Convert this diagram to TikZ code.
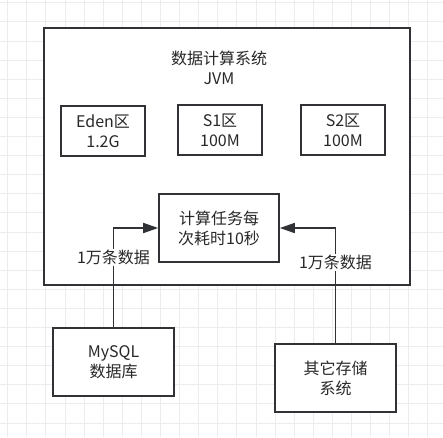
\documentclass[tikz,border=0pt]{standalone}
\usepackage{fontspec}
\setmainfont{Noto Sans CJK SC}
\definecolor{jvmline}{RGB}{48, 50, 54}
\definecolor{jvmtext}{RGB}{40, 40, 40}
\definecolor{gridgray}{RGB}{236, 236, 236}
\usetikzlibrary{arrows.meta, positioning}
\tikzset{
    membox/.style={rectangle, draw=jvmline, fill=white, line width=1.6pt,
                   minimum width=84pt, minimum height=50pt, align=center,
                   text=jvmtext, font=\fontsize{16}{20}\selectfont},
    srcbox/.style={membox, minimum width=121pt, minimum height=68pt},
    gridline/.style={gridgray, line width=0.8pt},
    arrow/.style={-{Triangle[length=15pt, width=10pt]}, line width=1.6pt, jvmline},
    flowlabel/.style={fill=white, inner sep=1pt, text=jvmtext, font=\fontsize{16}{20}\selectfont},
}

\begin{document}
\begin{tikzpicture}[x=1pt, y=1pt]
            \useasboundingbox (0,0) rectangle (443,-437);
            % background grid
            \foreach \gx in {0,...,22} {\draw[gridline] (7.6+19.1*\gx,0) -- (7.6+19.1*\gx,-437);}
            \foreach \gy in {0,...,22} {\draw[gridline] (0,-2.7-19.1*\gy) -- (443,-2.7-19.1*\gy);}

            \node[membox, minimum width=366pt, minimum height=257pt] (jvm) at (227, -156.5) {};
            \node[text=jvmtext, align=center, font=\fontsize{16}{20}\selectfont] (title) at (219, -68) {数据计算系统\\JVM};

            \node[membox] (eden) at (103, -131) {Eden区\\1.2G};
            \node[membox] (sone) at (220, -130) {S1区\\100M};
            \node[membox] (stwo) at (343, -130) {S2区\\100M};
            \node[membox, minimum width=120pt, minimum height=68pt] (task) at (219, -228) {计算任务每\\次耗时10秒};

            \node[srcbox] (mysql) at (113.5, -362) {MySQL\\数据库};
            \node[srcbox] (other) at (335.5, -378) {其它存储\\系统};

            \draw[arrow] (mysql.north) |- node[flowlabel, pos=0.35] {1万条数据} (task.west);
            \draw[arrow] (other.north) |- node[flowlabel, pos=0.35] {1万条数据} (task.east);
        \end{tikzpicture}
\end{document}
